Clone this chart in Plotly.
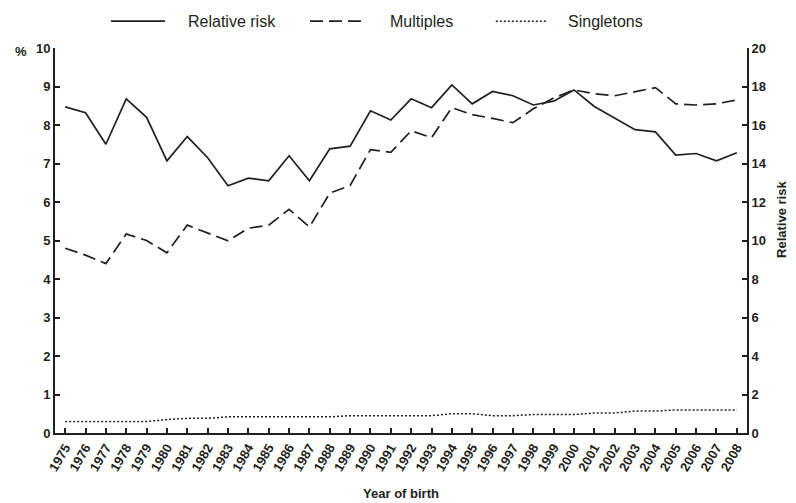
import plotly.graph_objects as go

years = list(range(1975, 2009))
relative_risk = [16.94, 16.64, 15.0, 17.36, 16.4, 14.14, 15.4, 14.3, 12.84, 13.24, 13.1, 14.4, 13.1,
                 14.76, 14.9, 16.74, 16.26, 17.36, 16.9, 18.08, 17.1, 17.74, 17.52, 17.04, 17.24,
                 17.82, 16.96, 16.36, 15.76, 15.64, 14.44, 14.52, 14.14, 14.56]
multiples = [4.8, 4.62, 4.4, 5.17, 5.0, 4.68, 5.4, 5.2, 4.99, 5.32, 5.4, 5.81, 5.35, 6.23, 6.43,
             7.36, 7.29, 7.85, 7.67, 8.45, 8.27, 8.17, 8.06, 8.42, 8.7, 8.91, 8.81, 8.76, 8.86,
             8.97, 8.55, 8.52, 8.55, 8.65]
singletons = [0.3, 0.3, 0.3, 0.3, 0.3, 0.35, 0.38, 0.38, 0.42, 0.42, 0.42, 0.42, 0.42, 0.42,
              0.45, 0.45, 0.45, 0.45, 0.45, 0.5, 0.5, 0.45, 0.45, 0.48, 0.48, 0.48, 0.52, 0.52,
              0.57, 0.57, 0.6, 0.6, 0.6, 0.6]
series_names = ["Relative risk", "Multiples", "Singletons"]

ink = "#231f20"
styles = [dict(color=ink, width=1.7),
          dict(color=ink, width=1.7, dash="13px,6px"),
          dict(color=ink, width=1.5, dash="2px,2px")]

fig = go.Figure()
fig.add_trace(go.Scatter(x=years, y=relative_risk, name=series_names[0], mode="lines",
                         line=styles[0], yaxis="y2"))
fig.add_trace(go.Scatter(x=years, y=multiples, name=series_names[1], mode="lines",
                         line=styles[1]))
fig.add_trace(go.Scatter(x=years, y=singletons, name=series_names[2], mode="lines",
                         line=styles[2]))

# custom legend row (paper coordinates)
leg_y = 1.0698
leg_pos = [(0.081, 0.159, 0.189), (0.3685, 0.445, 0.481), (0.637, 0.712, 0.738)]
shapes, annotations = [], []
for (x0, x1, xt), nm, st in zip(leg_pos, series_names, styles):
    shapes.append(dict(type="line", xref="paper", yref="paper", x0=x0, x1=x1,
                       y0=leg_y, y1=leg_y, line=st))
    annotations.append(dict(text=nm, x=xt, y=leg_y, xref="paper", yref="paper",
                            xanchor="left", yanchor="middle", showarrow=False,
                            font=dict(size=16, color=ink)))

annotations += [
    dict(text="<b>%</b>", x=-0.06, y=0.99, xref="paper", yref="paper",
         xanchor="left", yanchor="middle", showarrow=False,
         font=dict(size=13, color=ink)),
    dict(text="<b>Relative risk</b>", x=1.05, y=0.555, xref="paper", yref="paper",
         xanchor="center", yanchor="middle", textangle=-90, showarrow=False,
         font=dict(size=13, color=ink)),
]

tickfont = dict(family="Liberation Sans, Arial", size=13, color=ink, weight="bold")
fig.update_layout(
    width=796, height=503,
    margin=dict(l=47, r=57, t=40, b=76),
    paper_bgcolor="white", plot_bgcolor="white",
    font=dict(family="Liberation Sans, Arial", color=ink),
    showlegend=False,
    xaxis=dict(range=[1974.5, 2008.5], tickmode="array", tickvals=years,
               ticktext=[str(y) for y in years], tickangle=-60, ticks="inside",
               ticklen=5, tickwidth=1.5, tickcolor=ink, showline=True, linecolor=ink,
               linewidth=2, showgrid=False, zeroline=False, tickfont=tickfont,
               title=dict(text="<b>Year of birth</b>", font=dict(size=13), standoff=16)),
    yaxis=dict(range=[0, 10], dtick=1, ticks="inside", ticklen=5, tickwidth=1.5,
               tickcolor=ink, showline=True, linecolor=ink, linewidth=2, showgrid=False,
               zeroline=False, tickfont=tickfont),
    yaxis2=dict(range=[0, 20], dtick=2, overlaying="y", side="right", ticks="inside",
                ticklen=5, tickwidth=1.5, tickcolor=ink, showline=True, linecolor=ink,
                linewidth=2, showgrid=False, zeroline=False, tickfont=tickfont),
    shapes=shapes,
    annotations=annotations,
)
fig.write_html("out.html")
